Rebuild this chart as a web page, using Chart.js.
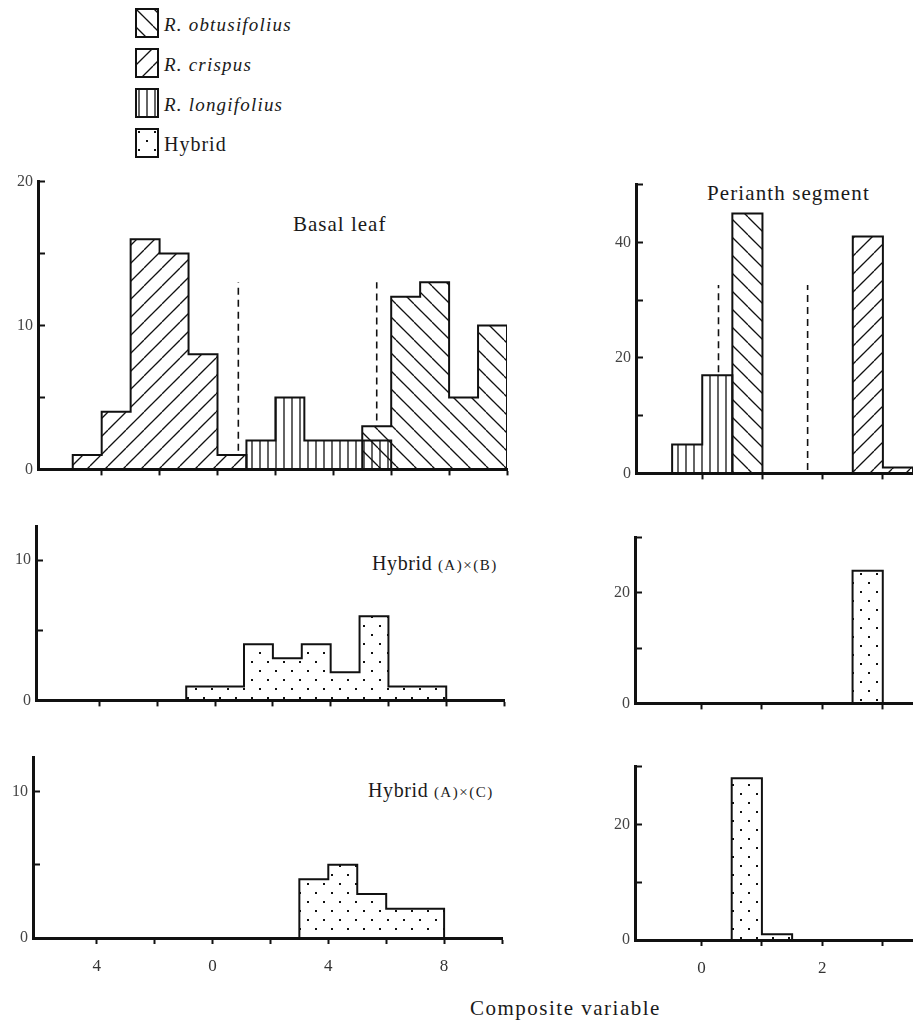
<!DOCTYPE html>
<html>
<head>
<meta charset="utf-8">
<script src="https://cdn.jsdelivr.net/npm/chart.js@4.4.1/dist/chart.umd.min.js"></script>
<style>
  html, body { margin: 0; padding: 0; background: #fff; width: 913px; height: 1026px; overflow: hidden; position: relative; }
  .txt { position: absolute; font-family: "Liberation Serif", "DejaVu Serif", serif; color: #1a1a1a; white-space: nowrap; line-height: 1; transform: translateY(-50%); }
  canvas { position: absolute; }
</style>
</head>
<body>
<!-- legend -->
<canvas id="lg0" width="24" height="30" style="left:135px;top:8px"></canvas>
<div class="txt" style="left:164px;top:24px;font-size:19px;font-style:italic;letter-spacing:1.2px">R. obtusifolius</div>
<canvas id="lg1" width="24" height="30" style="left:135px;top:48px"></canvas>
<div class="txt" style="left:164px;top:64px;font-size:19px;font-style:italic;letter-spacing:1.2px">R. crispus</div>
<canvas id="lg2" width="24" height="30" style="left:135px;top:88px"></canvas>
<div class="txt" style="left:164px;top:104px;font-size:19px;font-style:italic;letter-spacing:1.2px">R. longifolius</div>
<canvas id="lg3" width="24" height="30" style="left:135px;top:128px"></canvas>
<div class="txt" style="left:164px;top:144px;font-size:20px;letter-spacing:1px">Hybrid</div>

<div class="txt" style="left:293px;top:224px;font-size:21px;letter-spacing:1px">Basal leaf</div>
<div class="txt" style="left:707px;top:193px;font-size:21px;letter-spacing:1.1px">Perianth segment</div>
<div class="txt" style="left:372px;top:563px;font-size:20px;letter-spacing:0.6px">Hybrid <span style="font-size:15px;letter-spacing:1.5px">(A)×(B)</span></div>
<div class="txt" style="left:368px;top:790px;font-size:20px;letter-spacing:0.6px">Hybrid <span style="font-size:15px;letter-spacing:1.5px">(A)×(C)</span></div>
<div class="txt" style="left:470px;top:1008px;font-size:21px;letter-spacing:1.5px">Composite variable</div>

<script>
// ---------------- DATA ----------------
// Basal leaf composite variable: bin edges and counts
const crispusBasalEdges       = [-5, -4, -3, -2, -1, 0, 1];
const crispusBasalCounts      = [1, 4, 16, 15, 8, 1];
const longifoliusBasalEdges   = [1, 2, 3, 4, 5, 6];
const longifoliusBasalCounts  = [2, 5, 2, 2, 2];
const obtusifoliusBasalEdges  = [5, 6, 7, 8, 9, 10];
const obtusifoliusBasalCounts = [3, 12, 13, 5, 10];
const hybridABBasalEdges      = [-1, 0, 1, 2, 3, 4, 5, 6, 7, 8];
const hybridABBasalCounts     = [1, 1, 4, 3, 4, 2, 6, 1, 1];
const hybridACBasalEdges      = [3, 4, 5, 6, 7, 8];
const hybridACBasalCounts     = [4, 5, 3, 2, 2];

// Perianth segment composite variable: bin edges and counts
const longifoliusPerEdges   = [-0.5, 0, 0.5];
const longifoliusPerCounts  = [5, 17];
const obtusifoliusPerEdges  = [0.5, 1];
const obtusifoliusPerCounts = [45];
const crispusPerEdges       = [2.5, 3, 3.5];
const crispusPerCounts      = [41, 1];
const hybridABPerEdges      = [2.5, 3];
const hybridABPerCounts     = [24];
const hybridACPerEdges      = [0.5, 1, 1.5];
const hybridACPerCounts     = [28, 1];

// Dashed dividing lines (x position, y from, y to)
const basalDividerX     = [0.72, 5.5];
const basalDividerFrom  = [1.3, 3.4];
const basalDividerTo    = [13, 13];
const perianthDividerX    = [0.27, 1.75];
const perianthDividerFrom = [17.5, 0.6];
const perianthDividerTo   = [32.6, 32.6];

// Tick values and labels
const basalXTicks        = [-4, -2, 0, 2, 4, 6, 8, 10];
const basalXTickLabels   = ['4', '', '0', '', '4', '', '8', ''];
const perianthXTicks      = [0, 1, 2, 3];
const perianthXTickLabels = ['0', '', '2', ''];
const basalYTicks         = [0, 5, 10, 15, 20];
const basalYTickLabels    = ['0', '', '10', '', '20'];
const hybridBasalYTicks   = [0, 5, 10];
const hybridBasalYLabels  = ['0', '', '10'];
const perianthYTicks      = [0, 10, 20, 30, 40, 50];
const perianthYTickLabels = ['0', '', '20', '', '40', ''];
const hybridPerYTicks     = [0, 10, 20, 30];
const hybridPerYLabels    = ['0', '', '20', ''];

// ---------------- DRAWING ----------------
const SERIF = '"Liberation Serif", "DejaVu Serif", serif';
const INK = '#111';

function makePattern(kind) {
  const c = document.createElement('canvas');
  const size = kind === 'vert' ? [8, 8] : kind === 'dots' ? [16, 18] : [18, 18];
  c.width = size[0]; c.height = size[1];
  const g = c.getContext('2d');
  g.strokeStyle = INK; g.fillStyle = INK; g.lineWidth = 1.3;
  if (kind === 'back') {
    for (const k of [-18, 0, 18]) { g.beginPath(); g.moveTo(k, 0); g.lineTo(k + 18, 18); g.stroke(); }
  } else if (kind === 'fwd') {
    for (const k of [-18, 0, 18]) { g.beginPath(); g.moveTo(k, 18); g.lineTo(k + 18, 0); g.stroke(); }
  } else if (kind === 'vert') {
    g.beginPath(); g.moveTo(4, 0); g.lineTo(4, 8); g.stroke();
  } else if (kind === 'dots') {
    g.fillRect(3, 3, 2, 2); g.fillRect(11, 12, 2, 2);
  }
  return g.createPattern(c, 'repeat');
}
const PAT = { obt: makePattern('back'), cri: makePattern('fwd'), lon: makePattern('vert'), hyb: makePattern('dots') };

function hist(edges, counts, pat) {
  const pts = [{ x: edges[0], y: 0 }];
  counts.forEach((c, i) => pts.push({ x: edges[i], y: c }));
  pts.push({ x: edges[edges.length - 1], y: 0 });
  return { data: pts, stepped: true, fill: 'origin', backgroundColor: pat, borderColor: INK,
           borderWidth: 2, pointRadius: 0, borderJoinStyle: 'miter' };
}
function dividers(xs, from, to) {
  return xs.map((x, i) => ({ data: [{ x: x, y: from[i] }, { x: x, y: to[i] }], fill: false,
    borderColor: INK, borderWidth: 1.6, borderDash: [7, 5], pointRadius: 0 }));
}

function panel(p) {
  const W = p.area.right - p.area.left + p.yW + p.padRight;
  const H = p.area.bottom - p.area.top + p.padTop + p.xH;
  const cv = document.createElement('canvas');
  cv.width = W; cv.height = H;
  cv.style.left = (p.area.left - p.yW) + 'px';
  cv.style.top = (p.area.top - p.padTop) + 'px';
  document.body.appendChild(cv);
  new Chart(cv, {
    type: 'line',
    data: { datasets: p.datasets },
    options: {
      responsive: false, animation: false, devicePixelRatio: 1,
      layout: { padding: { top: p.padTop, right: p.padRight, left: 0, bottom: 0 } },
      plugins: { legend: { display: false }, tooltip: { enabled: false } },
      scales: {
        x: {
          type: 'linear', min: p.xMin, max: p.xMax,
          afterBuildTicks: s => { s.ticks = p.xTicks.map(v => ({ value: v })); },
          afterFit: s => { s.height = p.xH; },
          ticks: { callback: v => { const i = p.xTicks.indexOf(v); return i < 0 ? '' : p.xLabels[i]; },
                   autoSkip: false, maxRotation: 0, padding: 12, color: '#333',
                   font: { family: SERIF, size: 17 } },
          grid: { drawOnChartArea: false, drawTicks: true, tickLength: 6, tickWidth: 2, color: INK },
          border: { display: true, width: 3, color: INK }
        },
        y: {
          type: 'linear', min: 0, max: p.yMax,
          afterBuildTicks: s => { s.ticks = p.yTicks.map(v => ({ value: v })); },
          afterFit: s => { s.width = p.yW; },
          ticks: { callback: v => { const i = p.yTicks.indexOf(v); return i < 0 ? '' : p.yLabels[i]; },
                   autoSkip: false, padding: 12, color: '#444',
                   font: { family: SERIF, size: 16 } },
          grid: { drawOnChartArea: false, drawTicks: true, tickLength: -7, tickWidth: 2, color: INK },
          border: { display: true, width: 3, color: INK }
        }
      }
    }
  });
}

// Basal leaf: parental species
panel({
  area: { left: 38, right: 507, top: 172, bottom: 477 }, yW: 38, xH: 14, padTop: 12, padRight: 16,
  xMin: -6.2, xMax: 10, yMax: 20,
  xTicks: basalXTicks, xLabels: ['', '', '', '', '', '', '', ''],
  yTicks: basalYTicks, yLabels: basalYTickLabels,
  datasets: [
    ...dividers(basalDividerX, basalDividerFrom, basalDividerTo),
    hist(longifoliusBasalEdges, longifoliusBasalCounts, PAT.lon),
    hist(obtusifoliusBasalEdges, obtusifoliusBasalCounts, PAT.obt),
    hist(crispusBasalEdges, crispusBasalCounts, PAT.cri)
  ]
});
// Basal leaf: hybrid A x B
panel({
  area: { left: 36, right: 504, top: 517, bottom: 708 }, yW: 36, xH: 14, padTop: 12, padRight: 16,
  xMin: -6.2, xMax: 10, yMax: 12.4,
  xTicks: basalXTicks, xLabels: ['', '', '', '', '', '', '', ''],
  yTicks: hybridBasalYTicks, yLabels: hybridBasalYLabels,
  datasets: [hist(hybridABBasalEdges, hybridABBasalCounts, PAT.hyb)]
});
// Basal leaf: hybrid A x C
panel({
  area: { left: 33, right: 502, top: 748, bottom: 938 }, yW: 33, xH: 44, padTop: 12, padRight: 16,
  xMin: -6.2, xMax: 10, yMax: 12.3,
  xTicks: basalXTicks, xLabels: basalXTickLabels,
  yTicks: hybridBasalYTicks, yLabels: hybridBasalYLabels,
  datasets: [hist(hybridACBasalEdges, hybridACBasalCounts, PAT.hyb)]
});
// Perianth segment: parental species
panel({
  area: { left: 636, right: 913, top: 175, bottom: 481 }, yW: 50, xH: 14, padTop: 12, padRight: 0,
  xMin: -1.1, xMax: 3.5, yMax: 50,
  xTicks: perianthXTicks, xLabels: ['', '', '', ''],
  yTicks: perianthYTicks, yLabels: perianthYTickLabels,
  datasets: [
    ...dividers(perianthDividerX, perianthDividerFrom, perianthDividerTo),
    hist(longifoliusPerEdges, longifoliusPerCounts, PAT.lon),
    hist(obtusifoliusPerEdges, obtusifoliusPerCounts, PAT.obt),
    hist(crispusPerEdges, crispusPerCounts, PAT.cri)
  ]
});
// Perianth segment: hybrid A x B
panel({
  area: { left: 635, right: 913, top: 528, bottom: 711 }, yW: 50, xH: 14, padTop: 12, padRight: 0,
  xMin: -1.1, xMax: 3.5, yMax: 30,
  xTicks: perianthXTicks, xLabels: ['', '', '', ''],
  yTicks: hybridPerYTicks, yLabels: hybridPerYLabels,
  datasets: [hist(hybridABPerEdges, hybridABPerCounts, PAT.hyb)]
});
// Perianth segment: hybrid A x C
panel({
  area: { left: 635, right: 913, top: 757, bottom: 940 }, yW: 50, xH: 44, padTop: 12, padRight: 0,
  xMin: -1.1, xMax: 3.5, yMax: 30,
  xTicks: perianthXTicks, xLabels: perianthXTickLabels,
  yTicks: hybridPerYTicks, yLabels: hybridPerYLabels,
  datasets: [hist(hybridACPerEdges, hybridACPerCounts, PAT.hyb)]
});

// Legend swatches
['obt', 'cri', 'lon', 'hyb'].forEach((k, i) => {
  const cv = document.getElementById('lg' + i);
  const g = cv.getContext('2d');
  g.fillStyle = PAT[k];
  g.fillRect(1, 1, cv.width - 2, cv.height - 2);
  g.strokeStyle = INK; g.lineWidth = 2;
  g.strokeRect(1, 1, cv.width - 2, cv.height - 2);
});
</script>
</body>
</html>
